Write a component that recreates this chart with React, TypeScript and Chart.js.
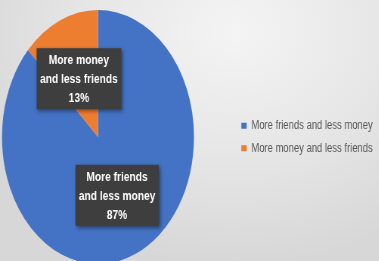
import React, { useEffect, useRef } from "react";
import { Chart, registerables } from "chart.js";

Chart.register(...registerables);

const categories = ["More friends and less money", "More money and less friends"];
const values = [87, 13];
const labelLines = [
  ["More friends", "and less money"],
  ["More money", "and less friends"],
];
const colors = ["#4472C4", "#ED7D31"];

const SCALE_X = 0.756;
const CANVAS_W = 503;
const CANVAS_H = 261;
const PIE_CENTER_X = 129.6;
const PIE_TOP = 10;
const PIE_BOTTOM = 264;

// place the pie area left of the legend and let it run past the bottom edge
const areaPlugin = {
  id: "pieArea",
  afterLayout(chart: any) {
    const ca = chart.chartArea;
    const left = 2 * PIE_CENTER_X - ca.right;
    chart.chartArea = {
      left,
      right: ca.right,
      top: PIE_TOP,
      bottom: PIE_BOTTOM,
      width: ca.right - left,
      height: PIE_BOTTOM - PIE_TOP,
    };
  },
};

const labelPlugin = {
  id: "boxLabels",
  afterDatasetsDraw(chart: any) {
    const ctx = chart.ctx as CanvasRenderingContext2D;
    const meta = chart.getDatasetMeta(0);
    const data = chart.data.datasets[0].data as number[];
    const total = data.reduce((a, b) => a + b, 0);
    ctx.save();
    ctx.font = "bold 13.5px 'Liberation Sans', Arial, sans-serif";
    ctx.textAlign = "center";
    ctx.textBaseline = "middle";
    meta.data.forEach((arc: any, i: number) => {
      const pos = arc.tooltipPosition(false);
      const lines = [...labelLines[i], Math.round((data[i] / total) * 100) + "%"];
      const lh = 19;
      const w = Math.max(...lines.map((l) => ctx.measureText(l).width)) + 9;
      const h = lines.length * lh + 4;
      ctx.save();
      ctx.shadowColor = "rgba(0,0,0,0.45)";
      ctx.shadowBlur = 4;
      ctx.shadowOffsetX = 2;
      ctx.shadowOffsetY = 2;
      ctx.fillStyle = "#3e3e3e";
      ctx.fillRect(pos.x - w / 2, pos.y - h / 2, w, h);
      ctx.restore();
      ctx.fillStyle = "#ffffff";
      lines.forEach((l, k) =>
        ctx.fillText(l, pos.x, pos.y + (k - (lines.length - 1) / 2) * lh + 1)
      );
    });
    ctx.restore();
  },
};

export default function App() {
  const ref = useRef<HTMLCanvasElement | null>(null);
  useEffect(() => {
    if (!ref.current) return;
    const chart = new Chart(ref.current, {
      type: "pie",
      data: {
        labels: categories,
        datasets: [
          {
            data: values,
            backgroundColor: colors,
            borderWidth: 0,
          },
        ],
      },
      options: {
        responsive: false,
        animation: false,
        devicePixelRatio: 1,
        layout: { padding: { left: 0, top: 13, bottom: 0, right: 0 } },
        plugins: {
          tooltip: { enabled: false },
          legend: {
            position: "right",
            labels: {
              boxWidth: 7,
              boxHeight: 6,
              padding: 10,
              color: "#575757",
              font: { family: "'Liberation Sans', Arial, sans-serif", size: 12.5 },
            },
          },
        },
      },
      plugins: [areaPlugin, labelPlugin],
    });
    return () => chart.destroy();
  }, []);
  return (
    <div
      style={{
        position: "fixed",
        left: 0,
        top: 0,
        width: 379,
        height: 261,
        overflow: "hidden",
        background:
          "radial-gradient(ellipse 75% 90% at 62% 12%, #f4f4f4 0%, #e7e7e7 50%, #d7d7d7 100%)",
      }}
    >
      <div
        style={{
          position: "absolute",
          left: 0,
          top: 0,
          width: CANVAS_W,
          height: CANVAS_H,
          transform: `scaleX(${SCALE_X})`,
          transformOrigin: "0 0",
        }}
      >
        <canvas ref={ref} width={CANVAS_W} height={CANVAS_H} style={{ display: "block" }} />
      </div>
    </div>
  );
}
